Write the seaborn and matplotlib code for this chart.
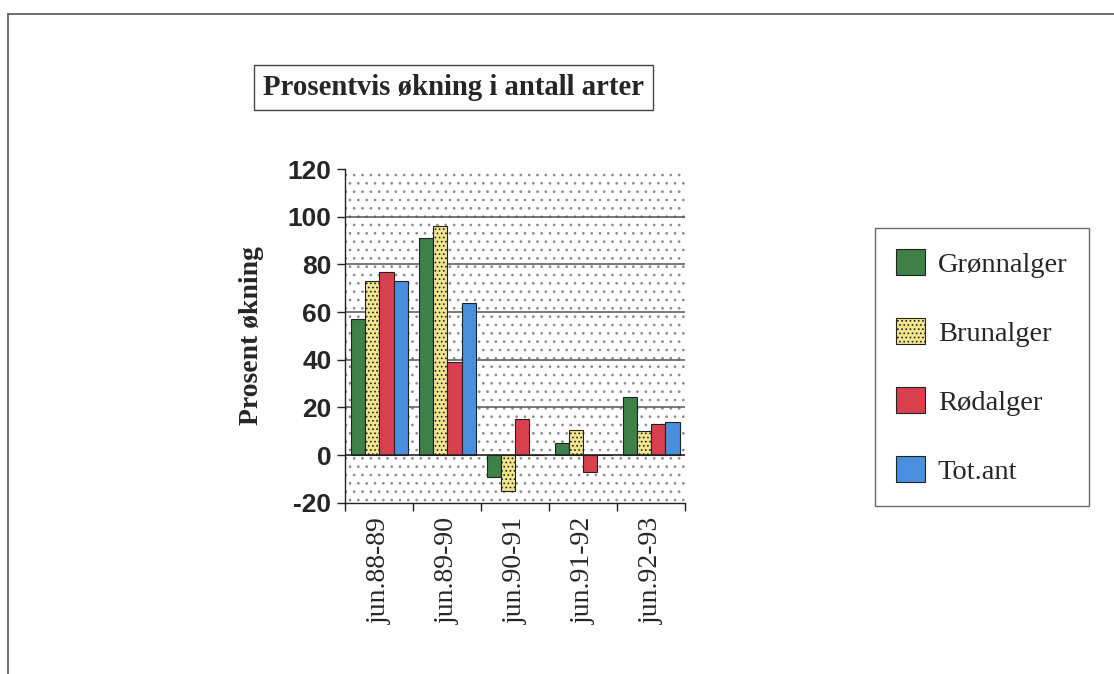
import numpy as np
import pandas as pd
import matplotlib.pyplot as plt
from matplotlib.patches import Rectangle
from matplotlib.lines import Line2D
import seaborn as sns

# ── Data ────────────────────────────────────────────────────────────────
perioder = ["jun.88-89", "jun.89-90", "jun.90-91", "jun.91-92", "jun.92-93"]
gruppene = ["Grønnalger", "Brunalger", "Rødalger", "Tot.ant"]
gronnalger = [57, 91, -9, 5, 24.5]
brunalger = [73, 96, -15, 10.5, 10]
rodalger = [77, 39, 15, -7, 13]
tot_ant = [73, 64, 0, 0, 14]

farger = ["#3d8048", "#f3e58c", "#d9404e", "#4a8ede"]

df = pd.DataFrame({
    "periode": perioder * 4,
    "gruppe": np.repeat(gruppene, len(perioder)),
    "verdi": gronnalger + brunalger + rodalger + tot_ant,
})

sns.set_theme(style="white")
plt.rcParams["font.family"] = ["Liberation Serif", "DejaVu Serif"]
plt.rcParams["hatch.linewidth"] = 0.7

fig = plt.figure(figsize=(11.14, 6.74), dpi=100)
ax = fig.add_axes([0.310, 0.254, 0.305, 0.495])

# dotted backdrop
bg = Rectangle((0, 0), 1, 1, transform=ax.transAxes, facecolor="white",
               edgecolor="#8a8a8a", hatch="..", linewidth=0, zorder=0)
ax.add_patch(bg)

sns.barplot(data=df, x="periode", y="verdi", hue="gruppe", palette=farger,
            order=perioder, hue_order=gruppene, width=0.84,
            edgecolor="#222222", linewidth=0.8, saturation=1,
            legend=False, ax=ax, zorder=3)

for bar in ax.containers[1]:
    bar.set_hatch("....")

for v in [20, 40, 60, 80, 100]:
    ax.axhline(v, color="#555555", linewidth=1.1, zorder=1)
ax.axhline(0, color="#222222", linewidth=1.2, zorder=4)

ax.set_ylim(-20, 120)
ax.set_xlim(-0.5, 4.5)
ax.set_yticks(range(-20, 121, 20))
ax.set_yticklabels([str(v) for v in range(-20, 121, 20)],
                   family="Liberation Sans", fontweight="bold", fontsize=19)
ax.set_xticks(range(len(perioder)))
ax.set_xticklabels(perioder, rotation=90, fontsize=20)
ax.set_xticks(np.arange(-0.5, 5, 1), minor=True)
ax.tick_params(axis="x", which="major", length=0, pad=10)
ax.tick_params(axis="x", which="minor", length=6, width=1, color="#222222",
               direction="out", bottom=True)
ax.tick_params(axis="y", length=6, width=1, color="#222222", direction="out",
               left=True, pad=4)

ax.set_xlabel("")
ax.set_ylabel("Prosent økning", fontsize=20, fontweight="bold")
ax.yaxis.set_label_coords(-0.24, 0.5)

for s in ["top", "right"]:
    ax.spines[s].set_visible(False)
for s in ["left", "bottom"]:
    ax.spines[s].set_color("#222222")
    ax.spines[s].set_linewidth(1)

# title in a box
fig.text(0.236, 0.870, "Prosentvis økning i antall arter", fontsize=20.7,
         fontweight="bold", ha="left", va="center",
         bbox=dict(boxstyle="square,pad=0.3", facecolor="white",
                   edgecolor="#444444", linewidth=1))

# legend
handles = [Rectangle((0, 0), 1, 1, facecolor=c, edgecolor="#222222",
                     linewidth=0.8, hatch="...." if i == 1 else None)
           for i, c in enumerate(farger)]
leg = fig.legend(handles, gruppene, loc="upper left",
                 bbox_to_anchor=(0.7855, 0.6617), fontsize=20.5, frameon=True,
                 fancybox=False, edgecolor="#444444", borderpad=0.75,
                 labelspacing=1.42, handlelength=1.0, handleheight=1.0,
                 handletextpad=0.45, borderaxespad=0)
leg.get_frame().set_linewidth(1)

# page border
fig.add_artist(Line2D([0.007, 1.0], [0.979, 0.979], color="#555555",
                      linewidth=1.2, transform=fig.transFigure))
fig.add_artist(Line2D([0.007, 0.007], [0.0, 0.979], color="#555555",
                      linewidth=1.2, transform=fig.transFigure))

fig.savefig("out.png", dpi=100)
